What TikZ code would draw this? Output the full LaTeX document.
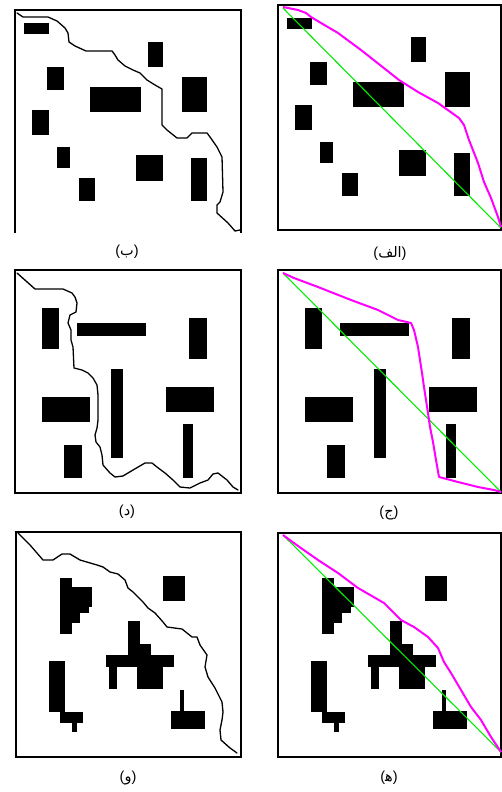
\documentclass[tikz,border=0pt]{standalone}
\usepackage{fontspec}
\newfontfamily\arabicfont[Script=Arabic]{DejaVu Sans}
\newfontfamily\parfont{Liberation Sans}
\TeXXeTstate=1
\definecolor{pathmag}{RGB}{255,0,255}
\definecolor{pathgrn}{RGB}{0,235,0}
\newcommand\plabel[1]{\hbox{\parfont(}\hbox{\arabicfont\beginR #1\endR}\hbox{\parfont)}}
\newcommand\obstRowA{%
  \fill (24,23) rectangle (49,34);
  \fill (148,42) rectangle (163,67);
  \fill (47,67) rectangle (64,90);
  \fill (90,87) rectangle (141,112);
  \fill (182,77) rectangle (207,112);
  \fill (32,110) rectangle (49,135);
  \fill (57,147) rectangle (70,168);
  \fill (136,155) rectangle (163,181);
  \fill (191,158) rectangle (207,201);
  \fill (79,178) rectangle (95,201);}
\newcommand\obstRowB{%
  \fill (42,308) rectangle (59,349);
  \fill (77,323) rectangle (146,336);
  \fill (189,318) rectangle (207,359);
  \fill (111,369) rectangle (123,458);
  \fill (42,397) rectangle (90,422);
  \fill (166,387) rectangle (214,412);
  \fill (183,424) rectangle (193,478);
  \fill (64,445) rectangle (82,478);}
\newcommand\obstRowC{%
  \fill (60,578) rectangle (72,634);
  \fill (72,587) rectangle (92,607);
  \fill (72,607) rectangle (89,613);
  \fill (72,613) rectangle (80,623);
  \fill (163,576) rectangle (185,601);
  \fill (128,621) rectangle (140,655);
  \fill (140,644) rectangle (151,655);
  \fill (106,655) rectangle (174,667);
  \fill (109,667) rectangle (117,689);
  \fill (137,667) rectangle (163,689);
  \fill (49,661) rectangle (65,712);
  \fill (60,712) rectangle (83,723);
  \fill (72,723) rectangle (77,732);
  \fill (180,690) rectangle (184,711);
  \fill (171,711) rectangle (205,729);}
\tikzset{
  frame/.style={draw=black, line width=2pt},
  route/.style={draw=black, line width=1.3pt, line join=round, line cap=round},
  magroute/.style={draw=pathmag, line width=2pt, line join=round},
  grnroute/.style={draw=pathgrn, line width=1.1pt},
  lbl/.style={inner sep=0pt, font=\fontsize{14.5}{17}\selectfont}
}
\begin{document}
\begin{tikzpicture}[x=1pt,y=-1pt]
\useasboundingbox (0,0) rectangle (502,792);
\fill[white] (0,0) rectangle (502,792);
% ---------- Row 1 ----------
\obstRowA
\begin{scope}[xshift=263pt,yshift=5pt]
\obstRowA
\end{scope}
\draw[frame] (15,233) -- (15,10) -- (241,10) -- (241,233);
\draw[frame] (278,5) rectangle (500.5,230);
\draw[route] (17,13) -- (23,17) -- (48,17) -- (57,21) -- (65,28) -- (68,33) -- (69,42) -- (75,46) -- (86,51) -- (112,51) -- (115,55) -- (118,60) -- (125,66) -- (133,70) -- (140,73) -- (147,80) -- (155,85) -- (162,89) -- (162,125) -- (167,130) -- (177,138) -- (187,138) -- (192,133) -- (207,133) -- (210,137) -- (217,147) -- (222,157) -- (223,192) -- (220,202) -- (217,205) -- (217,213) -- (228,223) -- (235,231) -- (240,230);
\draw[grnroute] (283,8) -- (501,228);
\draw[magroute] (283,7) -- (298,10) -- (306,13) -- (311,17) -- (321,23) -- (338,33) -- (361,50) -- (399,80) -- (418,92) -- (438,103) -- (459,118) -- (464,125) -- (469,140) -- (478,163) -- (484,182) -- (491,198) -- (498,217) -- (501,227);
\node[lbl] (lb) at (127,252) {\plabel{ب}};
\node[lbl] (lalef) at (390,253) {\plabel{الف}};
% ---------- Row 2 ----------
\obstRowB
\begin{scope}[xshift=263pt]
\obstRowB
\end{scope}
\draw[frame] (15,270) rectangle (241,493);
\draw[frame] (278,270) rectangle (500.5,493);
\draw[route] (17,273) -- (35,289) -- (63,289) -- (72,293) -- (75,297) -- (77,303) -- (76,312) -- (70,315) -- (68,323) -- (71,330) -- (71,340) -- (73,347) -- (74,368) -- (82,370) -- (88,373) -- (93,378) -- (97,385) -- (98,395) -- (98,407) -- (98,420) -- (97,428) -- (95,435) -- (96,442) -- (100,447) -- (102,455) -- (103,465) -- (110,473) -- (115,477) -- (123,476) -- (133,470) -- (145,463) -- (152,463) -- (157,467) -- (165,473) -- (173,480) -- (180,487) -- (190,488) -- (200,483) -- (208,480) -- (213,474) -- (218,473) -- (227,480) -- (233,487) -- (238,490);
\draw[grnroute] (283,273) -- (501,492);
\draw[magroute] (283,273) -- (294,278) -- (318,287) -- (351,300) -- (378,310) -- (398,320) -- (411,323) -- (414,330) -- (418,347) -- (422,373) -- (424,387) -- (428,413) -- (430,427) -- (433,442) -- (436,460) -- (439,477) -- (458,482) -- (478,487) -- (494,490) -- (501,492);
\node[lbl] (ld) at (127,512) {\plabel{د}};
\node[lbl] (lj) at (389,513) {\plabel{ج}};
% ---------- Row 3 ----------
\obstRowC
\begin{scope}[xshift=262pt]
\obstRowC
\end{scope}
\draw[frame] (16,532) rectangle (241,757);
\draw[frame] (278,533) rectangle (500.5,757);
\draw[route] (18,533) -- (30,545) -- (43,560) -- (53,560) -- (62,554) -- (70,554) -- (80,560) -- (97,565) -- (103,567) -- (110,572) -- (118,574) -- (125,580) -- (128,588) -- (133,592) -- (143,602) -- (148,608) -- (155,613) -- (163,622) -- (167,627) -- (182,629) -- (192,637) -- (197,637) -- (200,645) -- (207,655) -- (205,667) -- (208,677) -- (215,688) -- (222,702) -- (223,712) -- (222,720) -- (220,730) -- (221,740) -- (230,748) -- (237,753);
\draw[grnroute] (283,535) -- (501,752);
\draw[magroute] (283,535) -- (298,546) -- (318,560) -- (338,573) -- (358,588) -- (384,603) -- (401,620) -- (414,627) -- (428,637) -- (438,648) -- (444,662) -- (451,673) -- (461,690) -- (471,707) -- (481,720) -- (491,737) -- (501,752);
\node[lbl] (lw) at (128,778) {\plabel{و}};
\node[lbl] (lh) at (389,778) {\plabel{ه^^^^200d}};
\end{tikzpicture}
\end{document}
